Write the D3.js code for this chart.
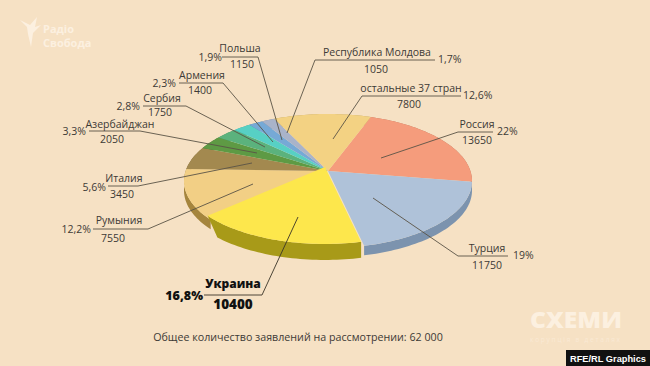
<!DOCTYPE html>
<html>
<head>
<meta charset="utf-8">
<script src="https://cdn.jsdelivr.net/npm/d3@7"></script>
<style>
  html, body { margin: 0; padding: 0; background: #f6e1c4; }
  svg { display: block; }
  text { font-family: "Open Sans", sans-serif; fill: #3d3a36; }
</style>
</head>
<body>
<div id="chart"></div>
<script>
var width = 650, height = 366;

// values
var countries = ["Россия", "Турция", "Украина", "Румыния", "Италия", "Азербайджан", "Сербия", "Армения", "Польша", "Республика Молдова", "остальные 37 стран"];
var applications = [13650, 11750, 10400, 7550, 3450, 2050, 1750, 1400, 1150, 1050, 7800];
var shares = ["22%", "19%", "16,8%", "12,2%", "5,6%", "3,3%", "2,8%", "2,3%", "1,9%", "1,7%", "12,6%"];
var topColors = ["#f59c7c", "#afc2d9", "#fde74c", "#f2cf85", "#a3894f", "#5e9a44", "#5bb27d", "#57d0c4", "#76a9d6", "#a9b3c9", "#f3d283"];
var sideColors = ["#b5735a", "#7c93ae", "#a89a18", "#a5853d", "#7d693c", "#477534", "#45885f", "#429f96", "#5a81a3", "#818899", "#b9a064"];

// label layout: text positions, then underline and the point the leader ends at
var labelLayout = [
  {name: [477, 124], num: [477, 140], pct: [497, 135, "start"], line: [[493, 132], [458, 132], [381, 158]]},
  {name: [487, 248], num: [487, 265], pct: [513, 259, "start"], line: [[508, 256], [458, 256], [373, 198]]},
  {name: [233, 284], num: [233, 304], pct: [203, 300, "end"], line: [[204, 295], [262, 295], [298, 217]], bold: true},
  {name: [119, 220], num: [113, 238], pct: [91, 233, "end"], line: [[93, 229], [148, 229], [253, 184]]},
  {name: [124, 178], num: [122, 194], pct: [106, 191, "end"], line: [[108, 186], [138, 186], [252, 163]]},
  {name: [120, 124], num: [112, 139], pct: [86, 135, "end"], line: [[89, 131], [140, 131], [257, 153]]},
  {name: [162, 98], num: [160, 112], pct: [140, 110, "end"], line: [[143, 106], [186, 106], [265, 147]]},
  {name: [202, 75], num: [200, 90], pct: [176, 87, "end"], line: [[179, 83], [223, 83], [273, 142]]},
  {name: [240, 48], num: [242, 64], pct: [222, 61, "end"], line: [[222, 57], [258, 57], [282, 140]]},
  {name: [377, 52], num: [376, 69], pct: [438, 63, "start"], line: [[435, 60], [315, 60], [287, 133]]},
  {name: [411, 88], num: [409, 104], pct: [463, 99, "start"], line: [[461, 96], [362, 96], [333, 139]]}
];

var svg = d3.select("#chart").append("svg")
  .attr("width", width)
  .attr("height", height);

svg.append("rect").attr("width", width).attr("height", height).attr("fill", "#f6e1c4");

// the pie lies tilted, so the disc is put on screen through a perspective
var cx = 328, cy = 171, persp = -0.149, scaleX = 142.4, scaleY = 65.5;
var depth = 9.5;
function project(angle, r) {
  var u = Math.sin(angle) * r, v = -Math.cos(angle) * r;
  var w = 1 + persp * v;
  return [cx + scaleX * u / w, cy + scaleY * v / w];
}

var start = 20 * Math.PI / 180;
var pie = d3.pie().sort(null).startAngle(start).endAngle(start + 2 * Math.PI);
var arcs = pie(applications);

function rim(d) {
  var n = Math.max(2, Math.ceil((d.endAngle - d.startAngle) * 40));
  return d3.range(n + 1).map(function(i) {
    return project(d.startAngle + (d.endAngle - d.startAngle) * i / n, 1);
  });
}
var line = d3.line();

// cut: how far the lower edge stays away from the slice's left tip
function wallPath(d, h, cut) {
  var pts = rim(d);
  var tipX = d3.min(pts, function(p) { return p[0]; });
  var low = pts.slice().reverse()
    .filter(function(p) { return !cut || p[0] >= tipX + cut; })
    .map(function(p) { return [p[0], p[1] + h]; });
  return line(pts.concat(low)) + "Z";
}
function topPath(d) {
  return line([[cx, cy]].concat(rim(d))) + "Z";
}

var UKRAINE = 2;
var pieG = svg.append("g");

pieG.selectAll(".wall")
  .data(arcs.filter(function(d, i) { return i != UKRAINE; }))
  .enter().append("path")
  .attr("class", "wall")
  .attr("d", function(d) { return wallPath(d, depth); })
  .attr("fill", function(d) { return sideColors[d.index]; });

pieG.selectAll(".slice")
  .data(arcs.filter(function(d, i) { return i != UKRAINE; }))
  .enter().append("path")
  .attr("class", "slice")
  .attr("d", topPath)
  .attr("fill", function(d) { return topColors[d.index]; });

// Ukraine is pulled out of the pie a little
var pulled = pieG.append("g").attr("transform", "translate(-3,-4)");
pulled.append("path")
  .attr("d", wallPath(arcs[UKRAINE], 16, 9))
  .attr("fill", sideColors[UKRAINE]);
pulled.append("path")
  .attr("d", topPath(arcs[UKRAINE]))
  .attr("fill", topColors[UKRAINE]);

// leaders
svg.selectAll(".leader")
  .data(labelLayout)
  .enter().append("path")
  .attr("class", "leader")
  .attr("d", function(d) { return line(d.line); })
  .attr("fill", "none")
  .attr("stroke", function(d) { return d.bold ? "#3a3428" : "#5a5346"; })
  .attr("stroke-width", 0.9);

// labels
labelLayout.forEach(function(d, i) {
  var weight = d.bold ? 800 : 400;
  var color = d.bold ? "#111" : null;
  svg.append("text").attr("x", d.name[0]).attr("y", d.name[1]).attr("dy", "0.35em")
    .attr("text-anchor", "middle").attr("font-size", d.bold ? 12 : 10.5).attr("font-weight", weight)
    .style("fill", color).text(countries[i]);
  svg.append("text").attr("x", d.num[0]).attr("y", d.num[1]).attr("dy", "0.35em")
    .attr("text-anchor", "middle").attr("font-size", d.bold ? 13.5 : 10.5).attr("font-weight", weight)
    .style("fill", color).text(applications[i]);
  svg.append("text").attr("x", d.pct[0]).attr("y", d.pct[1])
    .attr("text-anchor", d.pct[2]).attr("font-size", d.bold ? 12.5 : 10.5).attr("font-weight", weight)
    .style("fill", color).text(shares[i]);
});

svg.append("text").attr("x", 298).attr("y", 337).attr("dy", "0.35em")
  .attr("text-anchor", "middle").attr("font-size", 10.7)
  .text("Общее количество заявлений на рассмотрении: 62 000");

// branding
var pale = "#fcf0e0";
svg.append("path")
  .attr("d", "M20,20 L30,25 L37,17 L35,27 L41,25 L33,33 L31,47 L28,34 L27,27Z")
  .attr("fill", pale);
svg.append("text").attr("x", 43).attr("y", 33).attr("font-size", 11).attr("font-weight", 700).style("fill", pale).text("Радіо");
svg.append("text").attr("x", 43).attr("y", 47).attr("font-size", 11).attr("font-weight", 700).style("fill", pale).text("Свобода");
svg.append("text").attr("x", 530).attr("y", 328).attr("font-size", 23).attr("font-weight", 800)
  .attr("textLength", 92).attr("lengthAdjust", "spacingAndGlyphs").style("fill", pale).text("СХЕМИ");
svg.append("text").attr("x", 530).attr("y", 342).attr("font-size", 6.5).attr("textLength", 90).style("fill", "#fae9d4").text("корупція в деталях");

svg.append("rect").attr("x", 566).attr("y", 350).attr("width", 84).attr("height", 16).attr("fill", "#111");
svg.append("text").attr("x", 570).attr("y", 362).attr("font-size", 9.5).attr("font-weight", 700)
  .attr("textLength", 76).attr("lengthAdjust", "spacingAndGlyphs")
  .style("font-family", "'Liberation Sans', sans-serif").style("fill", "#fff").text("RFE/RL Graphics");
</script>
</body>
</html>
